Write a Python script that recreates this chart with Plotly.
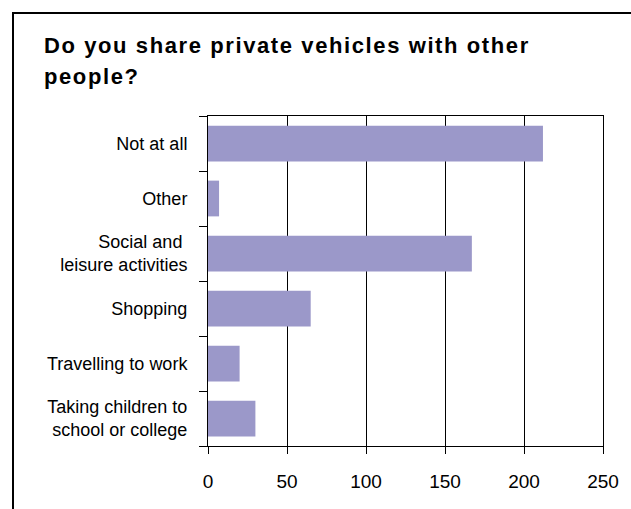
import plotly.graph_objects as go

# Survey answers, listed bottom-to-top as they appear on the chart
categories = [
    "Taking children to<br>school or college",
    "Travelling to work",
    "Shopping",
    "Social and <br>leisure activities",
    "Other",
    "Not at all",
]
counts = [30, 20, 65, 167, 7, 212]
x_ticks = [0, 50, 100, 150, 200, 250]

title_lines = ["Do you share private vehicles with other", "people?"]

FONT = "Liberation Sans, Arial, sans-serif"

fig = go.Figure(
    go.Bar(
        x=counts,
        y=categories,
        orientation="h",
        marker=dict(color="#9B98C9", line=dict(width=0)),
        width=0.65,
    )
)

W, H = 631, 509
L, R, T, B = 208, 28, 116, 63
pw, ph = W - L - R, H - T - B


def px_x(p):
    return (p - L) / pw


def px_y(p):
    return (H - B - p) / ph


# Outer frame around the whole chart (runs off the right and bottom edges)
fig.add_shape(
    type="rect", xref="paper", yref="paper",
    x0=px_x(13), x1=px_x(660), y0=px_y(540), y1=px_y(13),
    line=dict(color="black", width=2), fillcolor="rgba(0,0,0,0)", layer="above",
)

for i, (line, yc) in enumerate(zip(title_lines, [45, 76.5])):
    fig.add_annotation(
        text=f'<span style="letter-spacing:1.6px">{line}</span>',
        xref="paper", yref="paper",
        x=px_x(42), y=px_y(yc), xanchor="left", yanchor="middle",
        showarrow=False,
        font=dict(family=FONT, size=22, color="black", weight="bold"),
    )

fig.update_xaxes(
    range=[0, 250],
    tickvals=x_ticks,
    showgrid=True, gridcolor="black", gridwidth=1,
    showline=True, linecolor="black", linewidth=1, mirror=True,
    ticks="outside", ticklen=7, tickcolor="black", tickwidth=1,
    tickfont=dict(family=FONT, size=19, color="black"),
    ticklabelstandoff=11,
    zeroline=False, fixedrange=True,
)
fig.update_yaxes(
    categoryorder="array", categoryarray=categories,
    showgrid=False,
    showline=True, linecolor="black", linewidth=1, mirror=True,
    ticks="outside", ticklen=8, tickcolor="black", tickwidth=1,
    tickson="boundaries",
    tickfont=dict(family=FONT, size=18, color="black"),
    ticklabelstandoff=16,
    fixedrange=True,
)

fig.update_layout(
    width=W, height=H,
    margin=dict(l=L, r=R, t=T, b=B, autoexpand=False),
    paper_bgcolor="white", plot_bgcolor="white",
    showlegend=False,
)

fig.write_html("out.html", config={"displayModeBar": False})
